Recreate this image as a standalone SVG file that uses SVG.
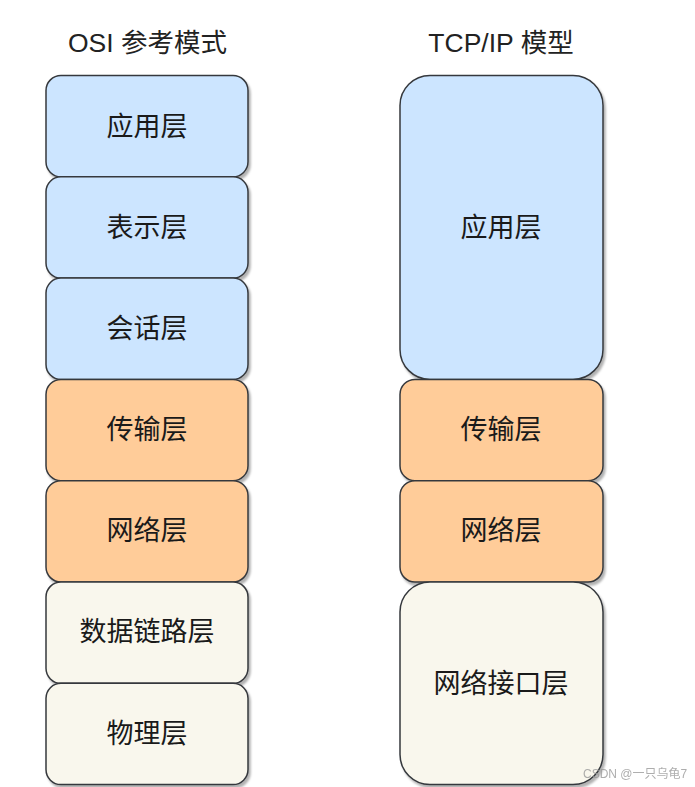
<svg xmlns="http://www.w3.org/2000/svg" width="695" height="787" viewBox="0 0 695 787">
  <defs>
    <filter id="sh" x="-10%" y="-10%" width="130%" height="130%">
      <feDropShadow dx="2" dy="3" stdDeviation="1.2" flood-color="#000" flood-opacity="0.3"/>
    </filter>
  </defs>
  <style>
    .box { stroke: #36393d; stroke-width: 1.5; filter: url(#sh); }
    .blue { fill: #cce5ff; }
    .orange { fill: #ffcc99; }
    .cream { fill: #f9f7ed; }
    .lbl { font-family: "Liberation Sans", "Noto Sans CJK SC", sans-serif; font-size: 27px; fill: #1a1a1a; text-anchor: middle; dominant-baseline: central; }
    .title { font-family: "Liberation Sans", "Noto Sans CJK SC", sans-serif; font-size: 26.5px; fill: #222; text-anchor: middle; }
    .wm { font-family: "Liberation Sans", "Noto Sans CJK SC", sans-serif; font-size: 12px; fill: #999; opacity: 0.8; }
  </style>
  <rect width="695" height="787" fill="#ffffff"/>
  <g id="titles">
    <text class="title" x="147.5" y="52">OSI 参考模式</text>
    <text class="title" x="501" y="52">TCP/IP 模型</text>
  </g>
  <g id="osi-application"><rect class="box blue" x="46" y="75.5" width="202" height="101.3" rx="15"/><text class="lbl" x="147" y="127">应用层</text></g>
  <g id="osi-presentation"><rect class="box blue" x="46" y="176.8" width="202" height="101.3" rx="15"/><text class="lbl" x="147" y="228">表示层</text></g>
  <g id="osi-session"><rect class="box blue" x="46" y="278.1" width="202" height="101.3" rx="15"/><text class="lbl" x="147" y="329">会话层</text></g>
  <g id="osi-transport"><rect class="box orange" x="46" y="379.4" width="202" height="101.3" rx="15"/><text class="lbl" x="147" y="430">传输层</text></g>
  <g id="osi-network"><rect class="box orange" x="46" y="480.7" width="202" height="101.3" rx="15"/><text class="lbl" x="147" y="531">网络层</text></g>
  <g id="osi-datalink"><rect class="box cream" x="46" y="582" width="202" height="101.3" rx="15"/><text class="lbl" x="147" y="632">数据链路层</text></g>
  <g id="osi-physical"><rect class="box cream" x="46" y="683.3" width="202" height="101.3" rx="15"/><text class="lbl" x="147" y="734">物理层</text></g>
  <g id="tcp-application"><rect class="box blue" x="400" y="75.5" width="203" height="303.9" rx="30"/><text class="lbl" x="501" y="228">应用层</text></g>
  <g id="tcp-transport"><rect class="box orange" x="400" y="379.4" width="203" height="101.3" rx="15"/><text class="lbl" x="501" y="430">传输层</text></g>
  <g id="tcp-network"><rect class="box orange" x="400" y="480.7" width="203" height="101.3" rx="15"/><text class="lbl" x="501" y="531">网络层</text></g>
  <g id="tcp-netif"><rect class="box cream" x="400" y="582" width="203" height="202.6" rx="30"/><text class="lbl" x="501" y="684">网络接口层</text></g>
  <g id="connectors"></g>
  <text class="wm" x="583" y="778">CSDN @一只乌龟7</text>
</svg>
